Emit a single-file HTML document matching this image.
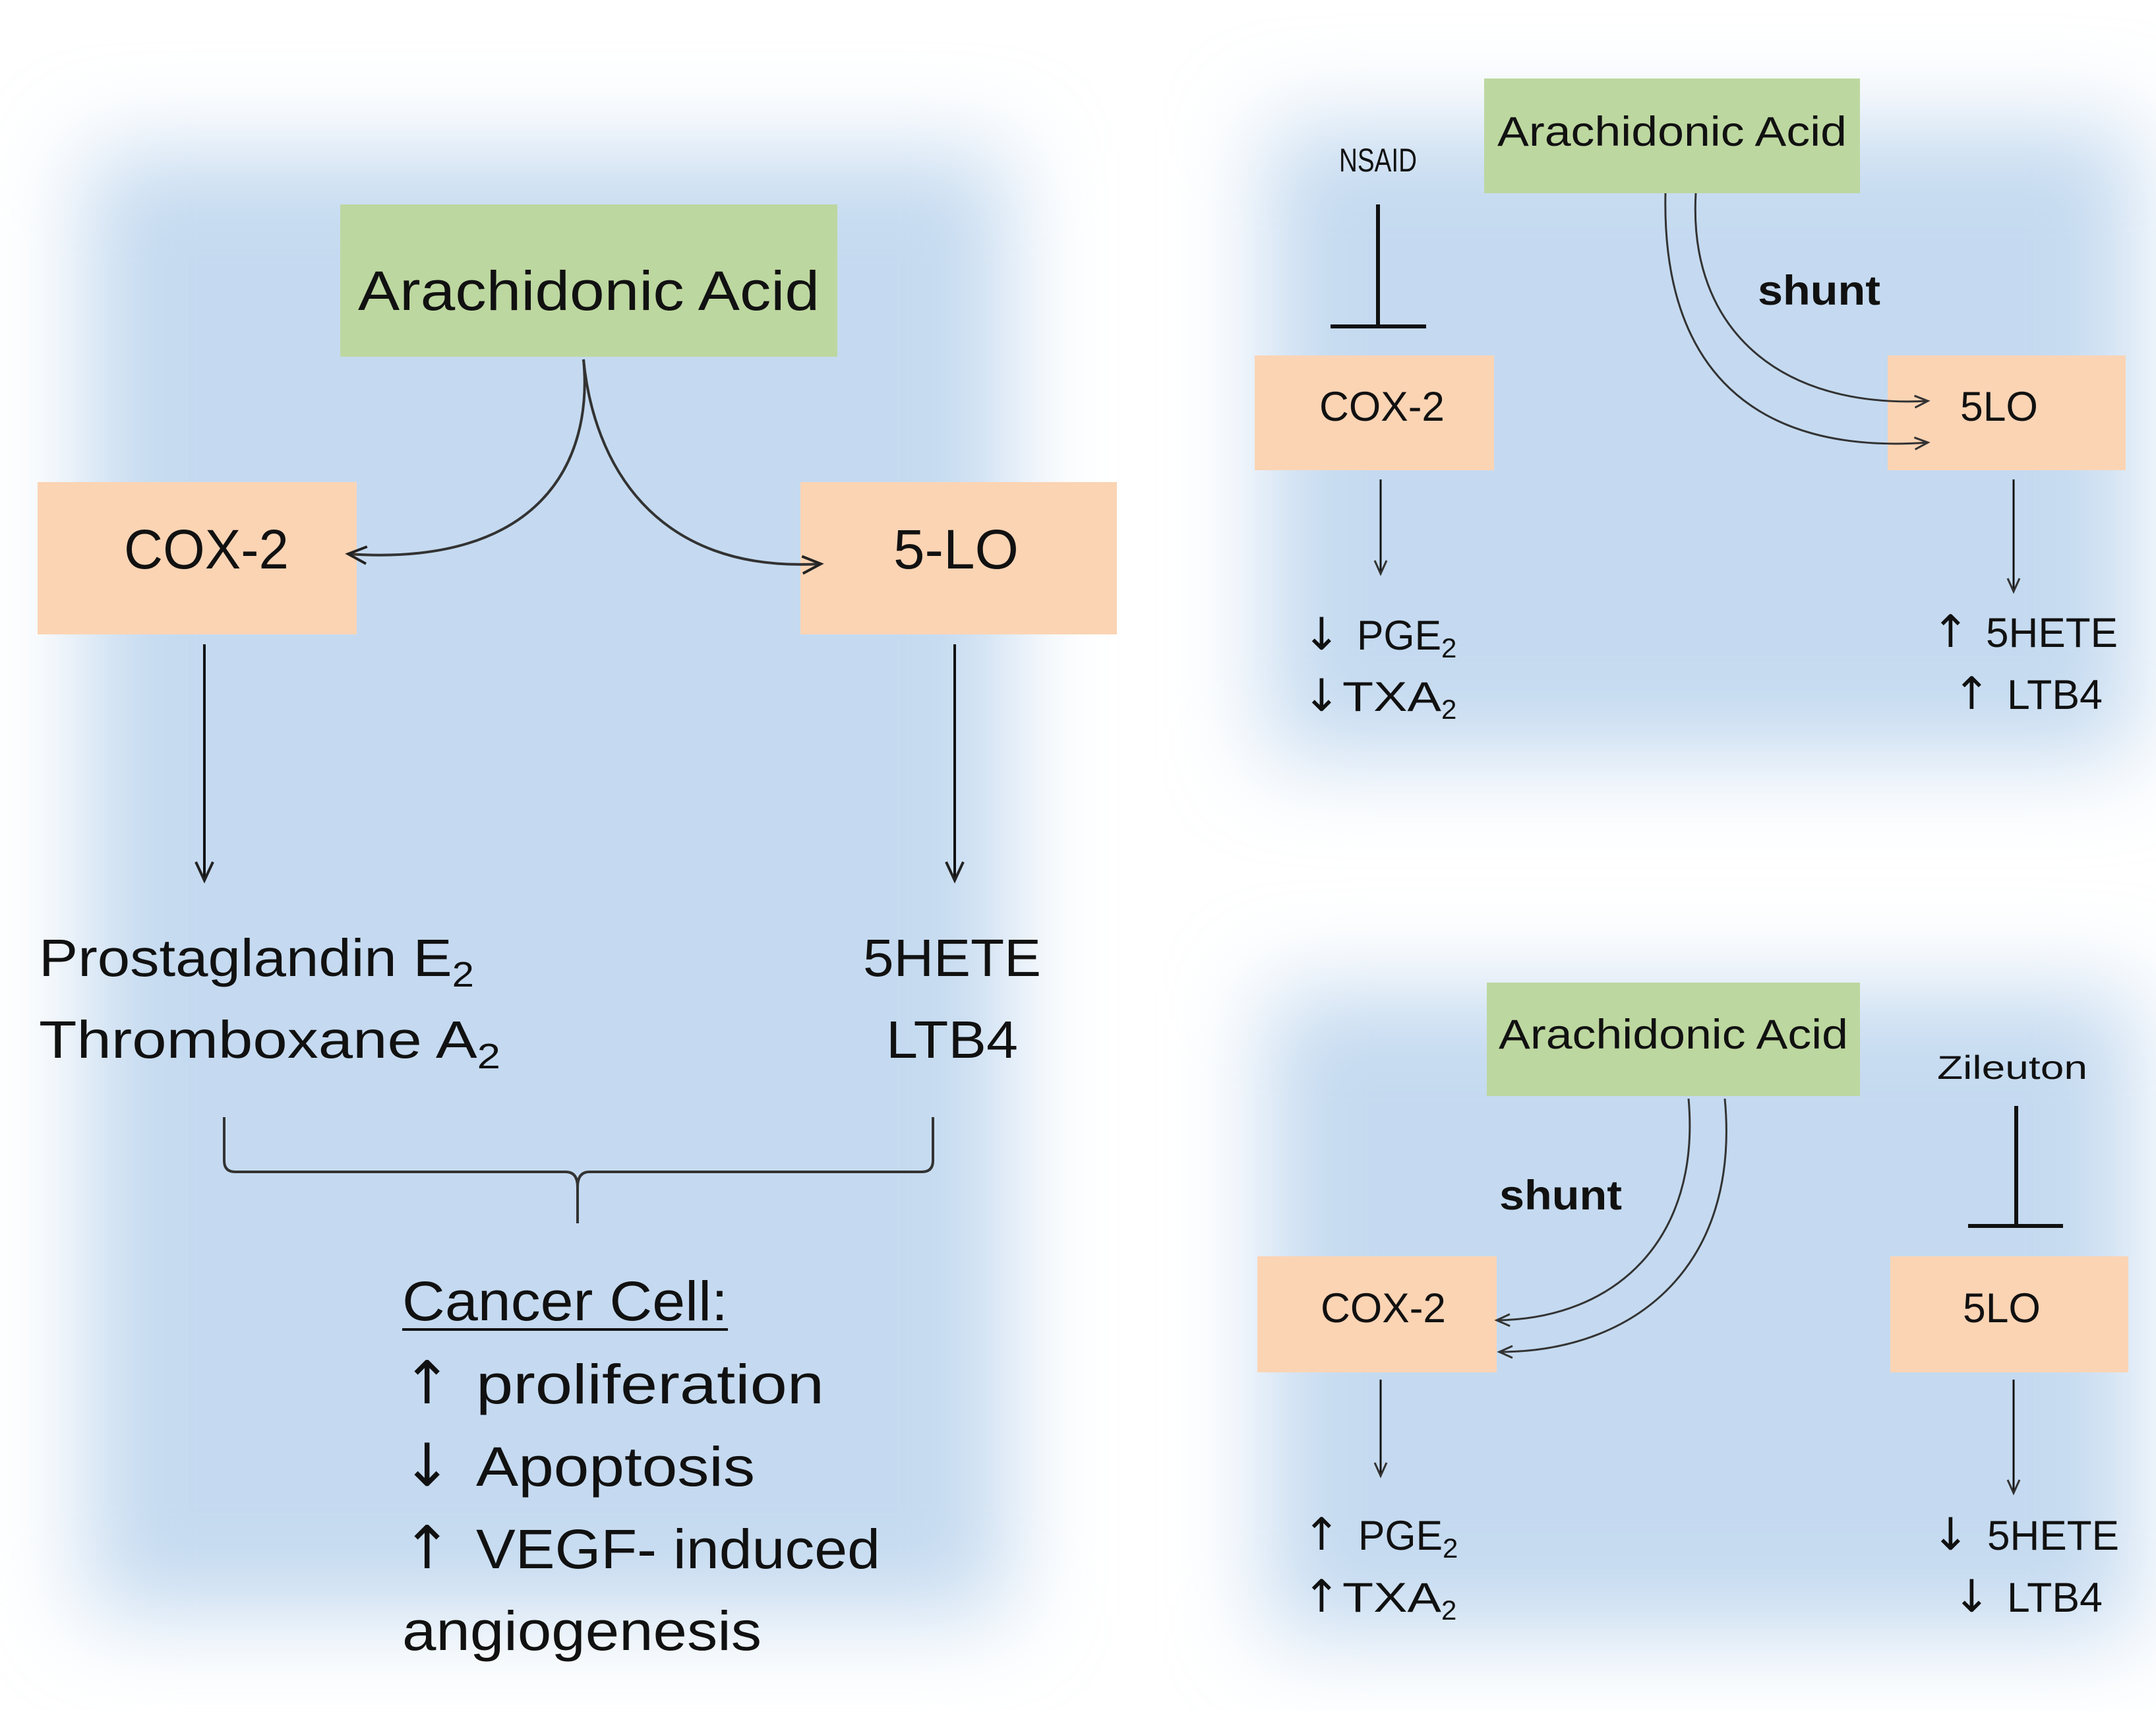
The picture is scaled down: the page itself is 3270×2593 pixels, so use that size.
<!DOCTYPE html>
<html><head><meta charset="utf-8"><style>
html,body{margin:0;padding:0;background:#fff}
svg{display:block}
text{font-family:"Liberation Sans",sans-serif;fill:#111}
.ar{font-family:"DejaVu Sans",sans-serif}
</style></head><body>
<svg width="3270" height="2593" viewBox="0 0 3270 2593" xmlns="http://www.w3.org/2000/svg">
<defs>
<filter id="b" x="-30%" y="-30%" width="160%" height="160%"><feGaussianBlur stdDeviation="70"/></filter>
<marker id="a2" markerWidth="40" markerHeight="40" refX="30" refY="15" orient="auto" markerUnits="userSpaceOnUse"><path d="M2,2 L30,15 L2,28" fill="none" stroke="#222" stroke-width="4"/></marker>
<marker id="a3" markerWidth="30" markerHeight="30" refX="22" refY="11" orient="auto" markerUnits="userSpaceOnUse"><path d="M2,2 L22,11 L2,20" fill="none" stroke="#333" stroke-width="3"/></marker>
</defs>
<rect x="130" y="230" width="1400" height="2220" fill="#c5daf0" filter="url(#b)"/>
<rect x="1920" y="190" width="1320" height="960" fill="#c5daf0" filter="url(#b)"/>
<rect x="1920" y="1500" width="1320" height="980" fill="#c5daf0" filter="url(#b)"/>

<!-- LEFT -->
<rect x="516" y="310" width="754" height="231" fill="#bdd7a0"/>
<text x="893" y="470" font-size="84" text-anchor="middle" textLength="700" lengthAdjust="spacingAndGlyphs">Arachidonic Acid</text>
<rect x="57" y="731" width="484" height="231" fill="#fbd4b4"/>
<text x="313" y="862" font-size="84" text-anchor="middle" textLength="250" lengthAdjust="spacingAndGlyphs">COX-2</text>
<rect x="1214" y="731" width="480" height="231" fill="#fbd4b4"/>
<text x="1450" y="862" font-size="84" text-anchor="middle" textLength="190" lengthAdjust="spacingAndGlyphs">5-LO</text>
<path d="M885,545 C900,700 820,860 528,840" fill="none" stroke="#333" stroke-width="4" marker-end="url(#a2)"/>
<path d="M885,545 C900,700 990,870 1245,855" fill="none" stroke="#333" stroke-width="4" marker-end="url(#a2)"/>
<line x1="310" y1="977" x2="310" y2="1335" stroke="#111" stroke-width="4" marker-end="url(#a2)"/>
<line x1="1448" y1="977" x2="1448" y2="1335" stroke="#111" stroke-width="4" marker-end="url(#a2)"/>
<text x="59" y="1480" font-size="80" textLength="660" lengthAdjust="spacingAndGlyphs">Prostaglandin E<tspan font-size="54" dy="16">2</tspan></text>
<text x="59" y="1604" font-size="80" textLength="700" lengthAdjust="spacingAndGlyphs">Thromboxane A<tspan font-size="54" dy="16">2</tspan></text>
<text x="1444" y="1480" font-size="80" text-anchor="middle" textLength="270" lengthAdjust="spacingAndGlyphs">5HETE</text>
<text x="1444" y="1604" font-size="80" text-anchor="middle" textLength="200" lengthAdjust="spacingAndGlyphs">LTB4</text>
<path d="M340,1694 L340,1760 Q340,1777 357,1777 L858,1777 Q876,1777 876,1800 L876,1855 M876,1800 Q876,1777 894,1777 L1398,1777 Q1415,1777 1415,1760 L1415,1694" fill="none" stroke="#333" stroke-width="4"/>
<text x="610" y="2002" font-size="84" textLength="494" lengthAdjust="spacingAndGlyphs">Cancer Cell:</text>
<line x1="610" y1="2016" x2="1104" y2="2016" stroke="#111" stroke-width="4"/>
<text x="610" y="2128" font-size="84"><tspan class="ar" font-size="90">↑</tspan><tspan x="722" textLength="528" lengthAdjust="spacingAndGlyphs">proliferation</tspan></text>
<text x="610" y="2253" font-size="84"><tspan class="ar" font-size="90">↓</tspan><tspan x="722" textLength="423" lengthAdjust="spacingAndGlyphs">Apoptosis</tspan></text>
<text x="610" y="2378" font-size="84"><tspan class="ar" font-size="90">↑</tspan><tspan x="722" textLength="613" lengthAdjust="spacingAndGlyphs">VEGF- induced</tspan></text>
<text x="610" y="2502" font-size="84" textLength="545" lengthAdjust="spacingAndGlyphs">angiogenesis</text>

<!-- TOP RIGHT -->
<rect x="2251" y="119" width="570" height="174" fill="#bdd7a0"/>
<text x="2536" y="221" font-size="63" text-anchor="middle" textLength="530" lengthAdjust="spacingAndGlyphs">Arachidonic Acid</text>
<text x="2090" y="260" font-size="50" text-anchor="middle" textLength="118" lengthAdjust="spacingAndGlyphs">NSAID</text>
<line x1="2090" y1="310" x2="2090" y2="495" stroke="#111" stroke-width="6"/>
<line x1="2018" y1="495" x2="2163" y2="495" stroke="#111" stroke-width="6"/>
<rect x="1903" y="539" width="363" height="174" fill="#fbd4b4"/>
<text x="2096" y="638" font-size="63" text-anchor="middle" textLength="190" lengthAdjust="spacingAndGlyphs">COX-2</text>
<rect x="2863" y="539" width="361" height="174" fill="#fbd4b4"/>
<text x="3032" y="638" font-size="63" text-anchor="middle" textLength="118" lengthAdjust="spacingAndGlyphs">5LO</text>
<text x="2666" y="462" font-size="63" font-weight="bold" textLength="186" lengthAdjust="spacingAndGlyphs">shunt</text>
<path d="M2572,293 C2560,500 2700,620 2924,608" fill="none" stroke="#333" stroke-width="3" marker-end="url(#a3)"/>
<path d="M2526,293 C2520,560 2660,690 2924,671" fill="none" stroke="#333" stroke-width="3" marker-end="url(#a3)"/>
<line x1="2094" y1="727" x2="2094" y2="870" stroke="#111" stroke-width="3" marker-end="url(#a3)"/>
<line x1="3054" y1="727" x2="3054" y2="897" stroke="#111" stroke-width="3" marker-end="url(#a3)"/>
<text x="1976" y="985" font-size="63"><tspan class="ar" font-size="68">↓</tspan><tspan x="2058" textLength="128" lengthAdjust="spacingAndGlyphs">PGE</tspan><tspan font-size="42" dy="12">2</tspan></text>
<text x="1976" y="1078" font-size="63"><tspan class="ar" font-size="68">↓</tspan><tspan x="2036" textLength="150" lengthAdjust="spacingAndGlyphs">TXA</tspan><tspan font-size="42" dy="12">2</tspan></text>
<text x="2930" y="981" font-size="63"><tspan class="ar" font-size="68">↑</tspan><tspan x="3012" textLength="200" lengthAdjust="spacingAndGlyphs">5HETE</tspan></text>
<text x="2962" y="1075" font-size="63"><tspan class="ar" font-size="68">↑</tspan><tspan x="3044" textLength="145" lengthAdjust="spacingAndGlyphs">LTB4</tspan></text>

<!-- BOTTOM RIGHT -->
<rect x="2255" y="1490" width="566" height="172" fill="#bdd7a0"/>
<text x="2538" y="1590" font-size="63" text-anchor="middle" textLength="530" lengthAdjust="spacingAndGlyphs">Arachidonic Acid</text>
<text x="3052" y="1636" font-size="50" text-anchor="middle" textLength="228" lengthAdjust="spacingAndGlyphs">Zileuton</text>
<line x1="3058" y1="1677" x2="3058" y2="1859" stroke="#111" stroke-width="6"/>
<line x1="2985" y1="1859" x2="3129" y2="1859" stroke="#111" stroke-width="6"/>
<rect x="1907" y="1905" width="363" height="176" fill="#fbd4b4"/>
<text x="2098" y="2005" font-size="63" text-anchor="middle" textLength="190" lengthAdjust="spacingAndGlyphs">COX-2</text>
<rect x="2867" y="1905" width="361" height="176" fill="#fbd4b4"/>
<text x="3036" y="2005" font-size="63" text-anchor="middle" textLength="118" lengthAdjust="spacingAndGlyphs">5LO</text>
<text x="2274" y="1834" font-size="63" font-weight="bold" textLength="186" lengthAdjust="spacingAndGlyphs">shunt</text>
<path d="M2561,1666 C2580,1880 2450,2000 2270,2002" fill="none" stroke="#333" stroke-width="3" marker-end="url(#a3)"/>
<path d="M2616,1666 C2640,1920 2480,2050 2274,2050" fill="none" stroke="#333" stroke-width="3" marker-end="url(#a3)"/>
<line x1="2094" y1="2092" x2="2094" y2="2238" stroke="#111" stroke-width="3" marker-end="url(#a3)"/>
<line x1="3054" y1="2092" x2="3054" y2="2264" stroke="#111" stroke-width="3" marker-end="url(#a3)"/>
<text x="1976" y="2350" font-size="63"><tspan class="ar" font-size="68">↑</tspan><tspan x="2060" textLength="128" lengthAdjust="spacingAndGlyphs">PGE</tspan><tspan font-size="42" dy="12">2</tspan></text>
<text x="1976" y="2444" font-size="63"><tspan class="ar" font-size="68">↑</tspan><tspan x="2036" textLength="150" lengthAdjust="spacingAndGlyphs">TXA</tspan><tspan font-size="42" dy="12">2</tspan></text>
<text x="2930" y="2350" font-size="63"><tspan class="ar" font-size="68">↓</tspan><tspan x="3014" textLength="200" lengthAdjust="spacingAndGlyphs">5HETE</tspan></text>
<text x="2962" y="2444" font-size="63"><tspan class="ar" font-size="68">↓</tspan><tspan x="3044" textLength="145" lengthAdjust="spacingAndGlyphs">LTB4</tspan></text>
</svg>
</body></html>
